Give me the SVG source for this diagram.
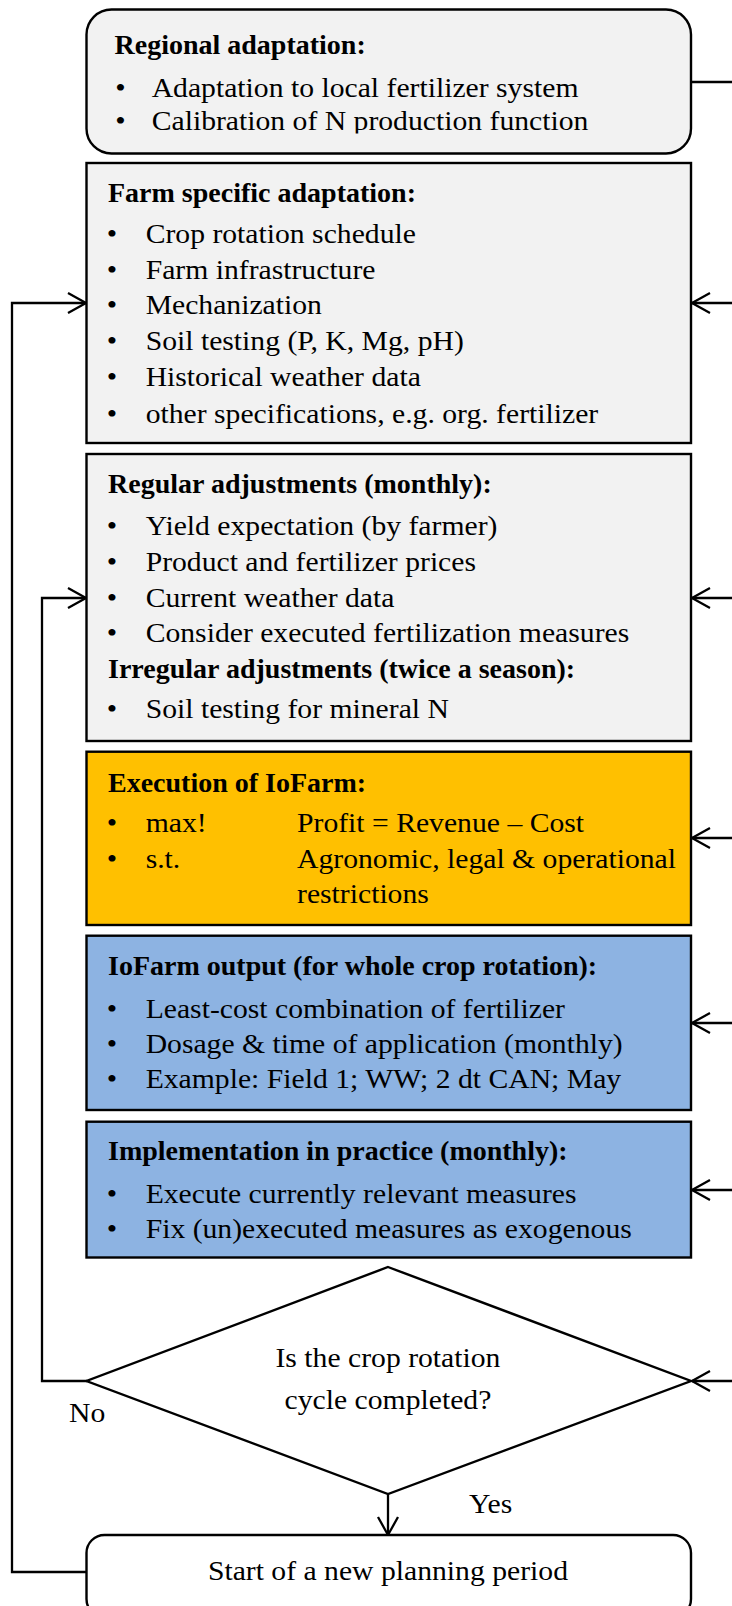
<svg xmlns="http://www.w3.org/2000/svg" width="732" height="1606" viewBox="0 0 732 1606">
  <style>
    .box { stroke: #000; stroke-width: 2.4; }
    .gray { fill: #f2f2f2; }
    .orange { fill: #ffc000; }
    .blue { fill: #8db3e2; }
    .white { fill: #ffffff; }
    text { font-family: "Liberation Serif", "Times New Roman", serif; font-size: 28px; fill: #000; }
    .b { font-weight: bold; }
    .c { text-anchor: middle; }
    .link { fill: none; stroke: #000; stroke-width: 2.3; stroke-linejoin: miter; }
    .arrow { marker-end: url(#arr); }
  </style>
  <defs>
    <marker id="arr" markerUnits="userSpaceOnUse" markerWidth="26" markerHeight="26" viewBox="-22 -13 26 26" refX="0" refY="0" orient="auto">
      <path d="M-18,-10 L0,0 L-18,10" fill="none" stroke="#000" stroke-width="2.3"/>
    </marker>
    <clipPath id="clipTop">
      <rect x="0" y="0" width="732" height="133.5"/>
    </clipPath>
  </defs>

  <rect x="0" y="0" width="732" height="1606" fill="#ffffff"/>

  <!-- connectors -->
  <g id="connectors">
    <!-- right-hand feed lines -->
    <path class="link" d="M732,82 H691"/>
    <path class="link arrow" d="M732,303 H692"/>
    <path class="link arrow" d="M732,598 H692"/>
    <path class="link arrow" d="M732,838 H692"/>
    <path class="link arrow" d="M732,1023 H692"/>
    <path class="link arrow" d="M732,1190 H692"/>
    <path class="link arrow" d="M732,1381 H692"/>
    <!-- loops on the left -->
    <path class="link arrow" d="M87,1572 H12 V303 H86"/>
    <path class="link arrow" d="M87,1381 H42 V598 H86"/>
    <!-- decision to new period -->
    <path class="link arrow" d="M388,1494 V1535"/>
  </g>

  <!-- Regional adaptation -->
  <g id="regional">
    <rect class="box gray" x="86.5" y="9.5" width="604.5" height="144" rx="25" ry="25"/>
    <text class="b" x="114.5" y="54">Regional adaptation:</text>
    <g clip-path="url(#clipTop)">
      <g transform="scale(1.06 1)">
        <text class="c" x="113.6" y="96.7">•</text>
        <text x="143.1" y="96.7">Adaptation to local fertilizer system</text>
        <text class="c" x="113.6" y="130">•</text>
        <text x="143.1" y="130">Calibration of N production function</text>
      </g>
    </g>
  </g>

  <!-- Farm specific adaptation -->
  <g id="farm">
    <rect class="box gray" x="86.5" y="163" width="604.5" height="280"/>
    <text class="b" x="108" y="201.7">Farm specific adaptation:</text>
    <g transform="scale(1.06 1)">
      <text class="c" x="105.7" y="243.5">•</text>
      <text x="137.4" y="243.5">Crop rotation schedule</text>
      <text class="c" x="105.7" y="279">•</text>
      <text x="137.4" y="279">Farm infrastructure</text>
      <text class="c" x="105.7" y="314.5">•</text>
      <text x="137.4" y="314.5">Mechanization</text>
      <text class="c" x="105.7" y="350.3">•</text>
      <text x="137.4" y="350.3">Soil testing (P, K, Mg, pH)</text>
      <text class="c" x="105.7" y="386.5">•</text>
      <text x="137.4" y="386.5">Historical weather data</text>
      <text class="c" x="105.7" y="423">•</text>
      <text x="137.4" y="423">other specifications, e.g. org. fertilizer</text>
    </g>
  </g>

  <!-- Regular / irregular adjustments -->
  <g id="adjustments">
    <rect class="box gray" x="86.5" y="454" width="604.5" height="287"/>
    <text class="b" x="108" y="493.3">Regular adjustments (monthly):</text>
    <text class="b" x="108" y="678.3">Irregular adjustments (twice a season):</text>
    <g transform="scale(1.06 1)">
      <text class="c" x="105.7" y="535">•</text>
      <text x="137.4" y="535">Yield expectation (by farmer)</text>
      <text class="c" x="105.7" y="571.5">•</text>
      <text x="137.4" y="571.5">Product and fertilizer prices</text>
      <text class="c" x="105.7" y="606.7">•</text>
      <text x="137.4" y="606.7">Current weather data</text>
      <text class="c" x="105.7" y="641.7">•</text>
      <text x="137.4" y="641.7">Consider executed fertilization measures</text>
      <text class="c" x="105.7" y="718.3">•</text>
      <text x="137.4" y="718.3">Soil testing for mineral N</text>
    </g>
  </g>

  <!-- Execution of IoFarm -->
  <g id="execution">
    <rect class="box orange" x="86.5" y="751.7" width="604.5" height="173.3"/>
    <text class="b" x="108" y="791.7">Execution of IoFarm:</text>
    <g transform="scale(1.06 1)">
      <text class="c" x="105.7" y="831.7">•</text>
      <text x="137.4" y="831.7">max!</text>
      <text x="280.2" y="831.7">Profit = Revenue – Cost</text>
      <text class="c" x="105.7" y="868.3">•</text>
      <text x="137.4" y="868.3">s.t.</text>
      <text x="280.2" y="868.3">Agronomic, legal &amp; operational</text>
      <text x="280.2" y="903.3">restrictions</text>
    </g>
  </g>

  <!-- IoFarm output -->
  <g id="output">
    <rect class="box blue" x="86.5" y="935.7" width="604.5" height="174.3"/>
    <text class="b" x="108" y="975">IoFarm output (for whole crop rotation):</text>
    <g transform="scale(1.06 1)">
      <text class="c" x="105.7" y="1018.3">•</text>
      <text x="137.4" y="1018.3">Least-cost combination of fertilizer</text>
      <text class="c" x="105.7" y="1053.3">•</text>
      <text x="137.4" y="1053.3">Dosage &amp; time of application (monthly)</text>
      <text class="c" x="105.7" y="1088.3">•</text>
      <text x="137.4" y="1088.3">Example: Field 1; WW; 2 dt CAN; May</text>
    </g>
  </g>

  <!-- Implementation in practice -->
  <g id="implementation">
    <rect class="box blue" x="86.5" y="1121.7" width="604.5" height="135.8"/>
    <text class="b" x="108" y="1160">Implementation in practice (monthly):</text>
    <g transform="scale(1.06 1)">
      <text class="c" x="105.7" y="1203.3">•</text>
      <text x="137.4" y="1203.3">Execute currently relevant measures</text>
      <text class="c" x="105.7" y="1238.3">•</text>
      <text x="137.4" y="1238.3">Fix (un)executed measures as exogenous</text>
    </g>
  </g>

  <!-- Decision -->
  <g id="decision">
    <polygon class="box white" points="388,1267 691,1381 388,1494 86.5,1381"/>
    <g transform="scale(1.06 1)">
      <text class="c" x="366" y="1367">Is the crop rotation</text>
      <text class="c" x="366" y="1409">cycle completed?</text>
      <text x="65.1" y="1422.5">No</text>
      <text x="442.5" y="1513">Yes</text>
    </g>
  </g>

  <!-- New planning period (runs off the lower edge) -->
  <g id="new-period">
    <rect class="box white" x="86.5" y="1535" width="604.5" height="82" rx="18" ry="18"/>
    <g transform="scale(1.06 1)">
      <text class="c" x="366" y="1580">Start of a new planning period</text>
    </g>
  </g>
</svg>
